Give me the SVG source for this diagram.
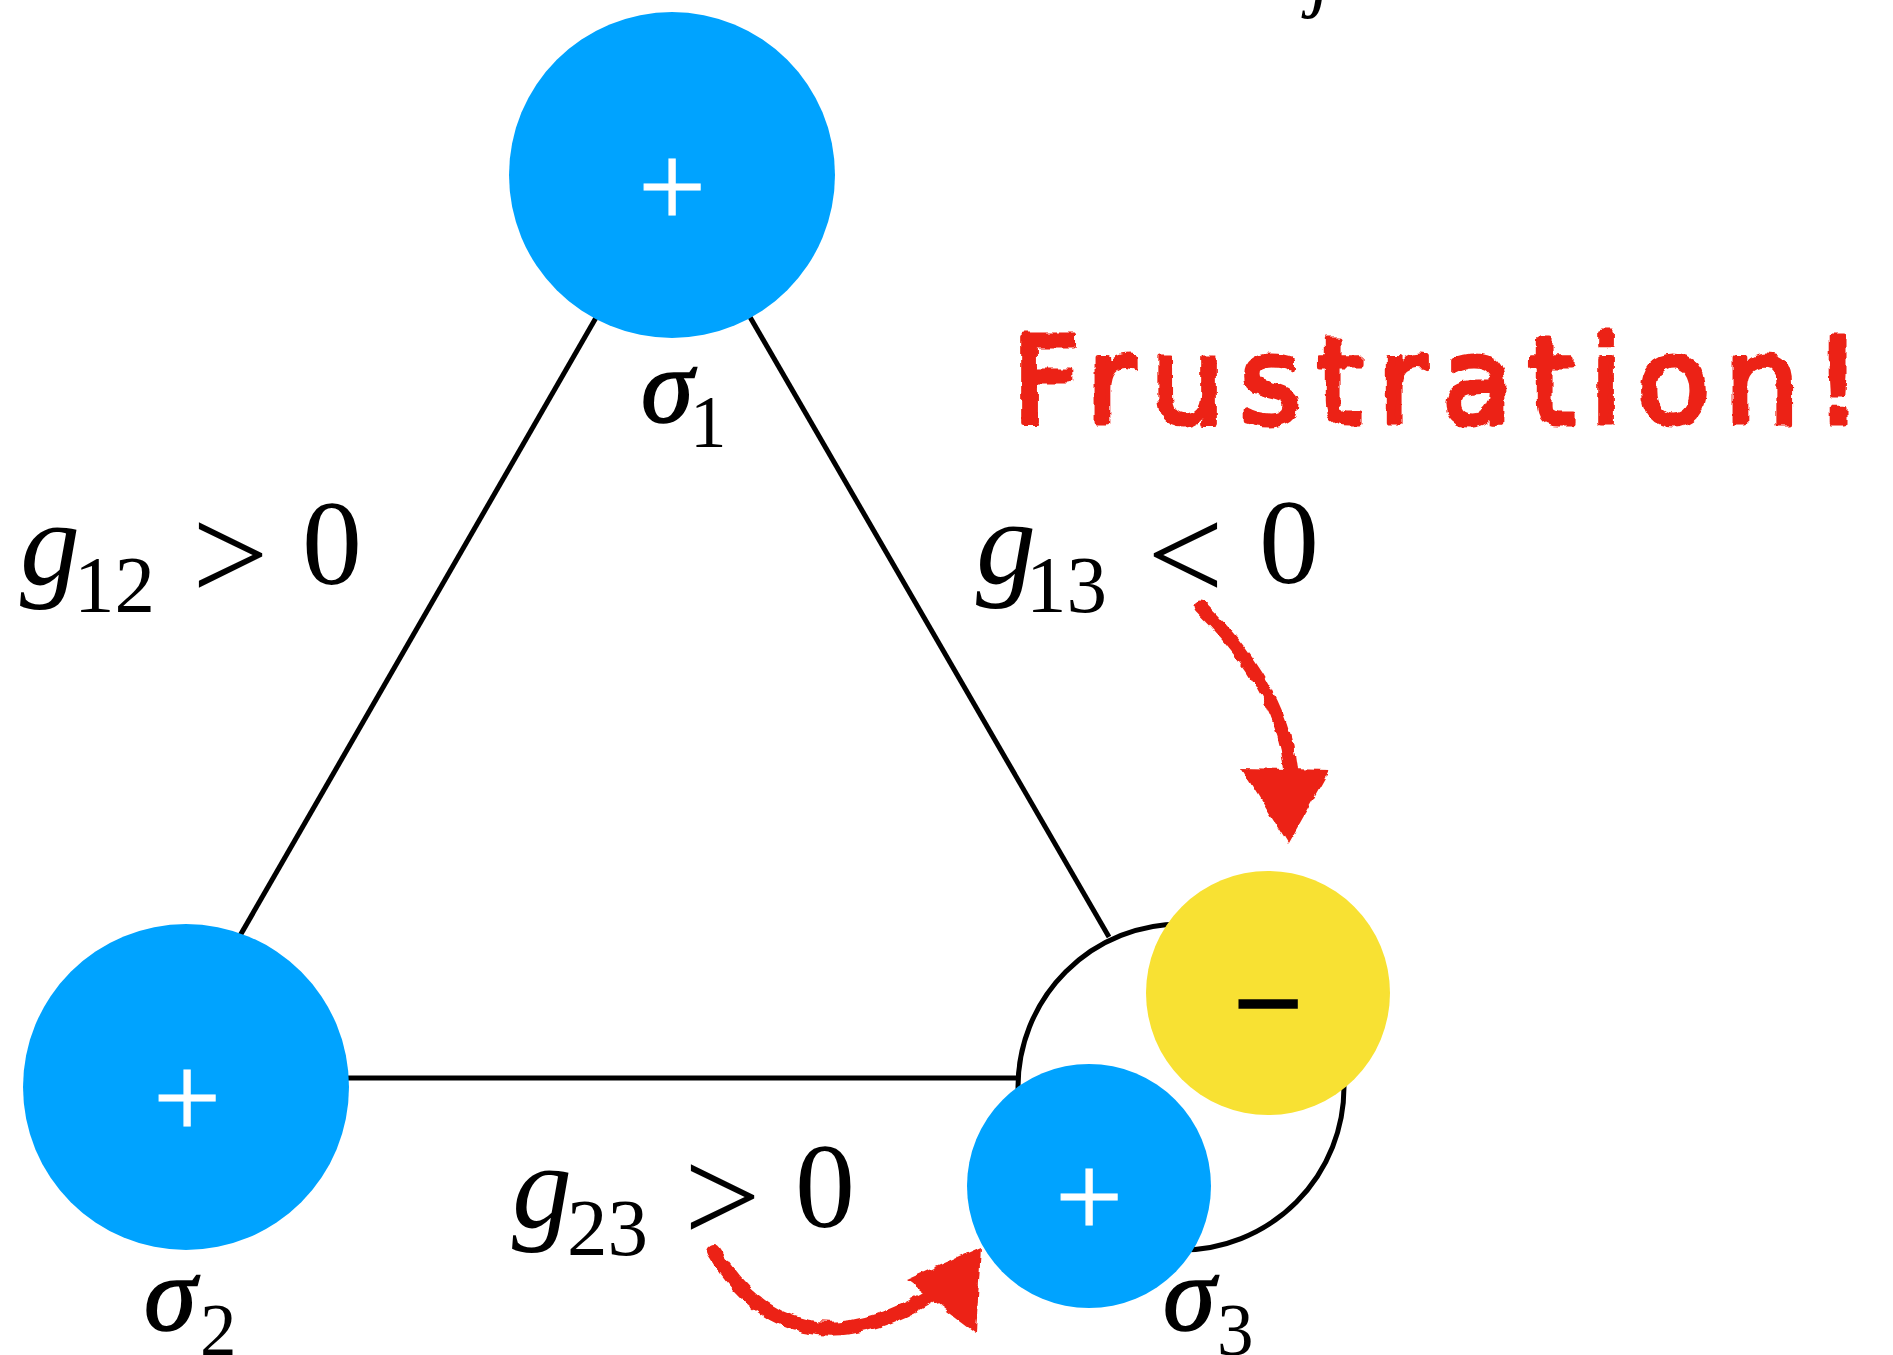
<svg xmlns="http://www.w3.org/2000/svg" width="1893" height="1355" viewBox="0 0 1893 1355">
<style>
.edge{stroke:#000;stroke-width:5;fill:none}
.blue{fill:#00A3FF}
.yellow{fill:#F8E133}
.sign{font-family:"Liberation Serif",serif;font-size:120px;text-anchor:middle}
.math{font-family:"Liberation Serif",serif;fill:#000}
.it{font-style:italic}
.sig{stroke:#000;stroke-width:1.6}
.red{fill:#EC2314}
.redline{stroke:#EC2314;fill:none;stroke-linecap:round}
</style>
<defs>
<filter id="rough" x="-10%" y="-10%" width="120%" height="120%">
<feTurbulence type="fractalNoise" baseFrequency="0.09" numOctaves="2" seed="4" result="n"/>
<feDisplacementMap in="SourceGraphic" in2="n" scale="7" xChannelSelector="R" yChannelSelector="G"/>
</filter>
</defs>
<rect width="1893" height="1355" fill="#fff"/>

<text class="math it" x="1310" y="2" font-size="80">j</text>

<g id="connectors">
<line class="edge" x1="673" y1="184" x2="158" y2="1078"/>
<line class="edge" x1="673" y1="184" x2="1109" y2="937"/>
<line class="edge" x1="158" y1="1078" x2="1018" y2="1078"/>
</g>

<g id="sigma1">
<circle class="blue" cx="672" cy="175" r="163"/>
<text class="sign" x="672" y="227" fill="#fff" stroke="#fff" stroke-width="1.2">+</text>
<text class="math" y="422"><tspan class="it sig" x="641" font-size="106">σ</tspan><tspan x="690" y="447" font-size="73">1</tspan></text>
</g>

<g id="sigma2">
<circle class="blue" cx="186" cy="1087" r="163"/>
<text class="sign" x="187" y="1138" fill="#fff" stroke="#fff" stroke-width="1.2">+</text>
<text class="math" y="1330"><tspan class="it sig" x="144" font-size="106">σ</tspan><tspan x="200" y="1355" font-size="73">2</tspan></text>
</g>

<g id="sigma3">
<circle class="edge" cx="1181" cy="1087" r="163"/>
<circle class="yellow" cx="1268" cy="993" r="122"/>
<text class="sign" x="1268" y="1044" fill="#000" stroke="#000" stroke-width="3.5">−</text>
<circle class="blue" cx="1089" cy="1186" r="122"/>
<text class="sign" x="1089" y="1237" fill="#fff" stroke="#fff" stroke-width="1.2">+</text>
<text class="math" y="1330"><tspan class="it sig" x="1163" font-size="106">σ</tspan><tspan x="1217" y="1355" font-size="73">3</tspan></text>
</g>

<g id="label-g12">
<text class="math" y="584" font-size="120"><tspan class="it" x="20">g</tspan><tspan x="74" y="612" font-size="81">12</tspan><tspan x="192" y="600" font-size="136">&gt;</tspan><tspan x="302" y="584">0</tspan></text>
</g>
<g id="label-g13">
<text class="math" y="583" font-size="120"><tspan class="it" x="976">g</tspan><tspan x="1026" y="612" font-size="81">13</tspan><tspan x="1147" y="600" font-size="136">&lt;</tspan><tspan x="1259" y="583">0</tspan></text>
</g>
<g id="label-g23">
<text class="math" y="1227" font-size="120"><tspan class="it" x="512">g</tspan><tspan x="567" y="1255" font-size="81">23</tspan><tspan x="684" y="1242" font-size="136">&gt;</tspan><tspan x="795" y="1227">0</tspan></text>
</g>

<g id="annotation" filter="url(#rough)">
<text class="red" x="1012" y="423" font-family="DejaVu Sans, sans-serif" font-size="119" stroke="#EC2314" stroke-width="5" stroke-linejoin="round" textLength="850" lengthAdjust="spacing">Frustration!</text>
<path class="redline" d="M1200,607 Q1285,690 1291,775" stroke-width="13"/>
<polygon class="red" points="1241,768 1330,770 1288,844"/>
<path class="redline" d="M714,1252 Q790,1378 929,1297" stroke-width="14"/>
<polygon class="red" points="906,1280 981,1247 976,1333"/>
</g>
</svg>
